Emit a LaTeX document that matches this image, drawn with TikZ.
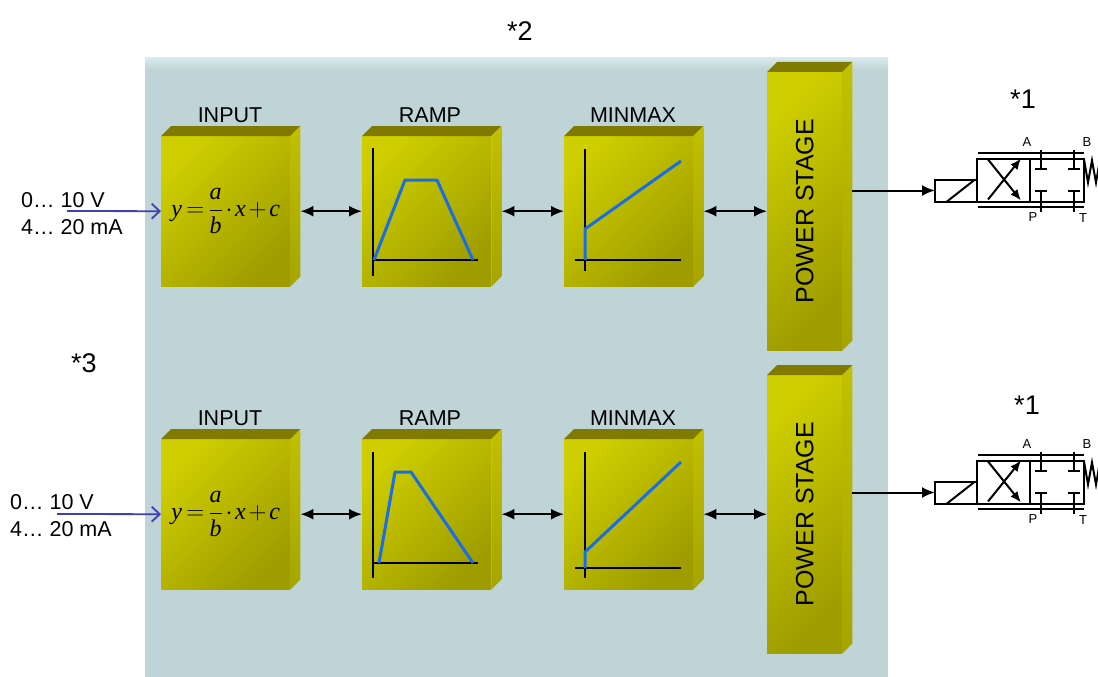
\documentclass[tikz,border=0pt]{standalone}
\usepackage{fontspec}
\setmainfont{Liberation Sans}
\newfontfamily\timesfont{Liberation Serif}
\usepackage{amsmath}
\usetikzlibrary{
  arrows.meta
}
\definecolor{panel}{RGB}{190,212,214}
\definecolor{panelhi}{RGB}{216,233,235}
\definecolor{blkhi}{RGB}{206,206,0}
\definecolor{blklo}{RGB}{158,156,0}
\definecolor{blktopc}{RGB}{128,122,0}
\definecolor{blksidehi}{RGB}{194,192,0}
\definecolor{blksidelo}{RGB}{166,164,0}
\definecolor{curve}{RGB}{25,110,230}
\definecolor{inblue}{RGB}{64,64,176}
\newcommand\tv[1]{\hbox{\timesfont\itshape #1}}
\newcommand\scalefml{$\medmuskip=2mu\thickmuskip=3mu
  \tv{y}=\dfrac{\tv{a}}{\tv{b}}\cdot\tv{x}+\tv{c}$}
\newcommand\cubefaces[1]{%
  \fill[blktopc] (#1.north west) -- ++(10,-10) -- ([shift={(10,-10)}]#1.north east) -- (#1.north east) -- cycle;
  \shade[top color=blksidehi, bottom color=blksidelo] (#1.north east) -- ([shift={(10,-10)}]#1.north east)
    -- ([shift={(10,-10)}]#1.south east) -- (#1.south east) -- cycle;}

\begin{document}
\begin{tikzpicture}[
  x=1pt, y=-1pt,
  blk/.style={anchor=north west, inner sep=0pt, top color=blkhi, bottom color=blklo, shading angle=45},
  cube/.style={blk, minimum width=129pt, minimum height=150pt},
  tall/.style={blk, minimum width=75pt, minimum height=278pt},
  lbl/.style={font=\fontsize{21.5}{25}\selectfont, inner sep=0pt},
  pwrlbl/.style={font=\fontsize{25}{30}\selectfont, rotate=90, inner sep=0pt},
  star/.style={font=\fontsize{27}{30}\selectfont, inner sep=0pt},
  sig/.style={font=\fontsize{21.5}{27}\selectfont, align=left, anchor=west, inner sep=0pt},
  fmla/.style={font=\fontsize{24}{28}\selectfont},
  axisl/.style={line width=2pt},
  curvel/.style={curve, line width=3pt, line join=round},
  dbl/.style={line width=2pt, {Latex[length=13pt,width=11pt]}-{Latex[length=13pt,width=11pt]}},
  inarr/.style={inblue, line width=1.8pt, -{Straight Barb[length=8pt,width=15pt]}},
  outarr/.style={line width=2pt, -{Latex[length=13pt,width=11pt]}},
  vline/.style={line width=2pt},
  vlbl/.style={font=\fontsize{13}{15}\selectfont, inner sep=0pt},
  valve/.pic={
    \coordinate (-sol) at (0,0);
    \draw[vline] (0,-11) rectangle (42,11);
    \draw[vline] (12,11) -- (40,-11);
    \draw[vline] (42,-32) rectangle (95,11);
    \draw[vline] (95,-32) rectangle (149,11);
    \draw[vline] (43,-38) -- (149,-38);
    \draw[vline] (43,16) -- (149,16);
    \draw[vline, -{Latex[length=11pt,width=9pt]}] (53,-31) -- (86,10);
    \draw[vline, -{Latex[length=11pt,width=9pt]}] (53,9) -- (86,-32);
    \foreach \px in {106,139}{
      \draw[vline] (\px,-41) -- (\px,-22) (\px-6,-22) -- (\px+6,-22);
      \draw[vline] (\px,21) -- (\px,0) (\px-6,0) -- (\px+6,0);
    }
    \draw[vline] (149,-31) -- (153,-8) -- (157,-30) -- (161,-8) -- (165,-31);
    \node[vlbl] (-A) at (92,-48) {A};
    \node[vlbl] (-B) at (152,-48) {B};
    \node[vlbl] (-P) at (98,27) {P};
    \node[vlbl] (-T) at (148,28) {T};
  },
]
\useasboundingbox (0,0) rectangle (1098,677);
\fill[panel] (145,58) rectangle (888,677);
\shade[top color=panelhi, bottom color=panel] (145,58) rectangle (888,70);

\node[cube, fmla] (inA) at (161,136) {\scalefml};
\node[cube] (rampA) at (362,136) {};
\node[cube] (mmA) at (564,136) {};
\node[tall] (powA) at (767,72) {};
\cubefaces{inA}
\cubefaces{rampA}
\cubefaces{mmA}
\cubefaces{powA}
\node[cube, fmla] (inB) at (161,439) {\scalefml};
\node[cube] (rampB) at (362,439) {};
\node[cube] (mmB) at (564,439) {};
\node[tall] (powB) at (767,375) {};
\cubefaces{inB}
\cubefaces{rampB}
\cubefaces{mmB}
\cubefaces{powB}

\node[lbl] (inAl) at (230,115) {INPUT};
\node[lbl] (rampAl) at (430,115) {RAMP};
\node[lbl] (mmAl) at (633,115) {MINMAX};
\node[pwrlbl] (powAl) at (powA.center) {POWER STAGE};
\node[lbl] (inBl) at (230,418) {INPUT};
\node[lbl] (rampBl) at (430,418) {RAMP};
\node[lbl] (mmBl) at (633,418) {MINMAX};
\node[pwrlbl] (powBl) at (powB.center) {POWER STAGE};

\draw[axisl] (373,148) -- (373,276);
\draw[axisl] (373,260) -- (478,260);
\draw[curvel] (374,260) -- (405,180) -- (437,180) -- (473,260);
\draw[axisl] (585,149) -- (585,271);
\draw[axisl] (575,260) -- (681,260);
\draw[curvel] (585,260) -- (585,229) -- (681,161);
\draw[axisl] (373,452) -- (373,578);
\draw[axisl] (373,563) -- (478,563);
\draw[curvel] (379,563) -- (395,472) -- (411,472) -- (473,563);
\draw[axisl] (585,452) -- (585,578);
\draw[axisl] (575,568) -- (681,568);
\draw[curvel] (585,568) -- (585,552) -- (681,462);

\node[star] (n2) at (520,31) {*2};
\node[star] (n3) at (84,363) {*3};
\node[star] (n1A) at (1023,99) {*1};
\node[star] (n1B) at (1027,405) {*1};

\node[sig] (sigA) at (21,214) {0… 10 V\\4… 20 mA};
\node[sig] (sigB) at (10,516) {0… 10 V\\4… 20 mA};
\coordinate (srcA) at (67,211);
\coordinate (srcB) at (57,514);
\draw[inarr] (srcA) -- (inA.west);
\draw[inarr] (srcB) -- (inB.west);

\draw[dbl] ([xshift=10pt]inA.east) -- (rampA.west);
\draw[dbl] ([xshift=10pt]rampA.east) -- (mmA.west);
\draw[dbl] ([xshift=10pt]mmA.east) -- (powA.west |- mmA.east);
\draw[dbl] ([xshift=10pt]inB.east) -- (rampB.west);
\draw[dbl] ([xshift=10pt]rampB.east) -- (mmB.west);
\draw[dbl] ([xshift=10pt]mmB.east) -- (powB.west |- mmB.east);

\pic (vA) at (935,190.5) {valve};
\pic (vB) at (935,492.5) {valve};
\draw[outarr] ([xshift=10pt]powA.east |- vA-sol) -- (vA-sol);
\draw[outarr] ([xshift=10pt]powB.east |- vB-sol) -- (vB-sol);
\end{tikzpicture}
\end{document}
